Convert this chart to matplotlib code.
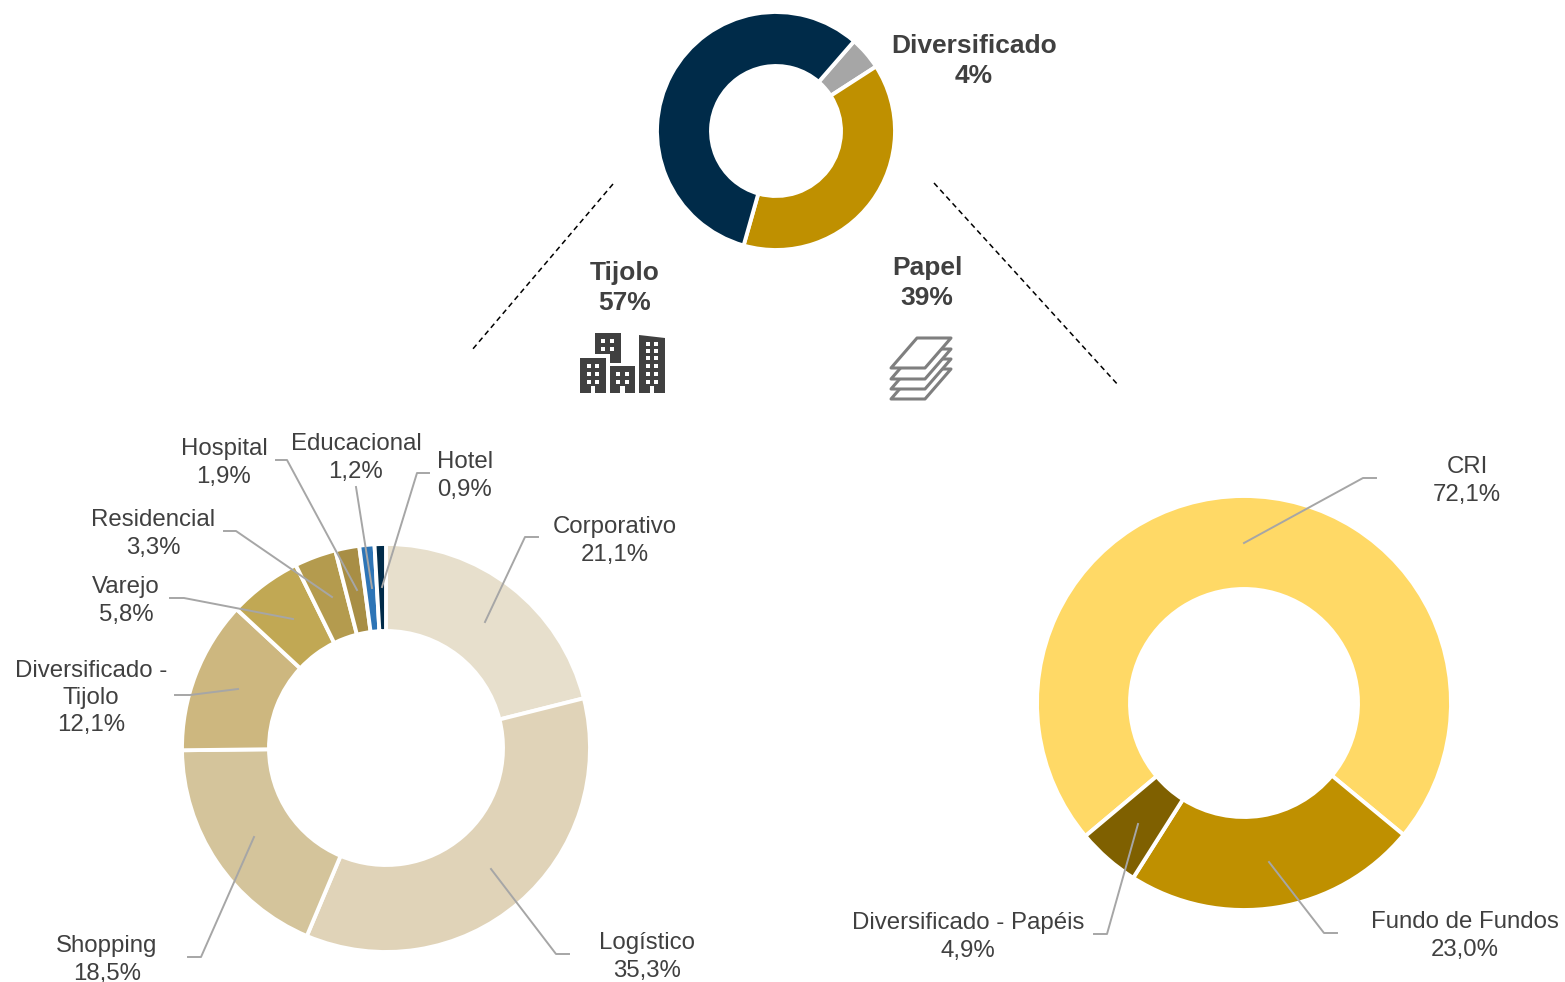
import matplotlib
matplotlib.use('Agg')
import matplotlib.pyplot as plt
from matplotlib.patches import Polygon, Rectangle

plt.rcParams['font.family'] = ['Liberation Sans', 'DejaVu Sans']

W, H = 1565, 982
TXT = '#404040'
LEAD = '#a6a6a6'

# top donut
top_labels = ['Diversificado', 'Papel', 'Tijolo']
top_values = [4.5, 38.5, 57.0]
top_colors = ['#a6a6a6', '#bf9000', '#002b49']

# left donut (Tijolo)
tijolo_labels = ['Corporativo', 'Logístico', 'Shopping', 'Diversificado -\nTijolo', 'Varejo',
                 'Residencial', 'Hospital', 'Educacional', 'Hotel']
tijolo_values = [21.1, 35.3, 18.5, 12.1, 5.8, 3.3, 1.9, 1.2, 0.9]
tijolo_colors = ['#e7dfcc', '#e0d3b8', '#d4c49b', '#cdb77f', '#c1a854',
                 '#b49b4e', '#a88e45', '#2e75b6', '#002b49']

# right donut (Papel)
papel_labels = ['CRI', 'Fundo de Fundos', 'Diversificado - Papéis']
papel_values = [72.1, 23.0, 4.9]
papel_colors = ['#ffd966', '#bf9000', '#7f6000']


def fy(y):
    # picture pixels count from the top, the axes from the bottom
    return H - y


def donut(ax, values, colors, cx, cy, r_out, r_in, start):
    ax.pie(values, colors=colors, center=(cx, fy(cy)), radius=r_out, startangle=start,
           counterclock=False, frame=False,
           wedgeprops=dict(width=r_out - r_in, edgecolor='white', linewidth=2.8))


def leader(ax, pts):
    ax.plot([p[0] for p in pts], [fy(p[1]) for p in pts], color=LEAD, lw=1.4, zorder=5)


def label(ax, x, y, name, val):
    ax.text(x, fy(y + 2), f'{name}\n{val:.1f}%'.replace('.', ','), ha='center', va='center',
            fontsize=17.3, color=TXT, linespacing=1.3, zorder=6)


def heading(ax, x, y, s):
    ax.text(x, fy(y + 2), s, ha='center', va='center', fontsize=19,
            fontweight='bold', color=TXT, linespacing=1.3)


def poly(ax, pts, **kw):
    ax.add_patch(Polygon([(x, fy(y)) for x, y in pts], closed=True, **kw))


def window(ax, x, y):
    ax.add_patch(Rectangle((x, fy(y + 4)), 4, 4, fc='white', ec='none', zorder=3))


def door(ax, mid, bottom):
    ax.add_patch(Rectangle((mid - 2.3, fy(bottom)), 4.6, 7, fc='white', ec='none', zorder=3))


def main():
    fig = plt.figure(figsize=(W / 100, H / 100), dpi=100)
    ax = fig.add_axes([0, 0, 1, 1])

    donut(ax, top_values, top_colors, 776, 131, 119, 65, 49)
    donut(ax, tijolo_values, tijolo_colors, 386, 748, 204, 117, 90)
    donut(ax, papel_values, papel_colors, 1244, 703, 207, 114, 220)

    ax.set_xlim(0, W)
    ax.set_ylim(0, H)
    ax.set_aspect('equal')
    ax.axis('off')

    # dashed connectors
    for a, b in [((613, 184), (472, 350)), ((934, 183), (1119, 386))]:
        ax.plot([a[0], b[0]], [fy(a[1]), fy(b[1])], color='black', lw=1.1, ls=(0, (3.5, 2.5)))

    # headings
    heading(ax, 974, 59, f'{top_labels[0]}\n4%')
    heading(ax, 625, 286, f'{top_labels[2]}\n57%')
    heading(ax, 927, 281, f'{top_labels[1]}\n39%')

    # left labels and leaders
    tij_pos = [(615, 539), (647, 955), (107, 958), (91, 696), (126, 599),
               (153, 532), (224, 461), (356, 456), (465, 474)]
    for (x, y), n, v in zip(tij_pos, tijolo_labels, tijolo_values):
        label(ax, x, y, n, v)
    leader(ax, [(485, 622), (525, 537), (538, 537)])
    leader(ax, [(491, 869), (556, 954), (569, 954)])
    leader(ax, [(254, 837), (201, 957), (188, 957)])
    leader(ax, [(238, 689), (190, 695), (175, 695)])
    leader(ax, [(293, 619), (184, 598), (170, 598)])
    leader(ax, [(332, 597), (236, 531), (224, 531)])
    leader(ax, [(357, 590), (287, 460), (276, 460)])
    leader(ax, [(372, 588), (356, 487)])
    leader(ax, [(382, 587), (417, 473), (429, 473)])

    # right labels and leaders
    pap_pos = [(1467, 479), (1465, 934), (968, 935)]
    for (x, y), n, v in zip(pap_pos, papel_labels, papel_values):
        label(ax, x, y, n, v)
    leader(ax, [(1244, 543), (1363, 478), (1376, 478)])
    leader(ax, [(1269, 862), (1324, 933), (1337, 933)])
    leader(ax, [(1138, 824), (1107, 934), (1094, 934)])

    # buildings icon
    poly(ax, [(580, 358), (606, 358), (606, 393), (580, 393)], fc=TXT, ec='none')
    for x in (586.5, 595):
        for y in (364, 372, 380):
            window(ax, x, y)
    door(ax, 593, 393)
    poly(ax, [(595, 333), (621, 333), (621, 363), (610, 363), (610, 354), (595, 354)],
         fc=TXT, ec='none')
    for x in (601, 609.5):
        for y in (339, 347):
            window(ax, x, y)
    poly(ax, [(610, 366), (635, 366), (635, 393), (610, 393)], fc=TXT, ec='none')
    for x in (616, 624.5):
        for y in (372, 380):
            window(ax, x, y)
    door(ax, 622.5, 393)
    poly(ax, [(639, 335), (665, 338), (665, 393), (639, 393)], fc=TXT, ec='none')
    for x in (645.5, 654):
        for y in (342, 348.5, 356, 364, 372, 380):
            window(ax, x, y)
    door(ax, 652, 393)

    # paper stack icon
    for dy in (31, 21, 11, 0):
        poly(ax, [(917, 338 + dy), (951, 338 + dy), (925, 368 + dy), (891, 368 + dy)],
             fc='white', ec='#7f7f7f', lw=2.2, joinstyle='round')

    fig.savefig('out.png', dpi=100)


if __name__ == '__main__':
    main()
